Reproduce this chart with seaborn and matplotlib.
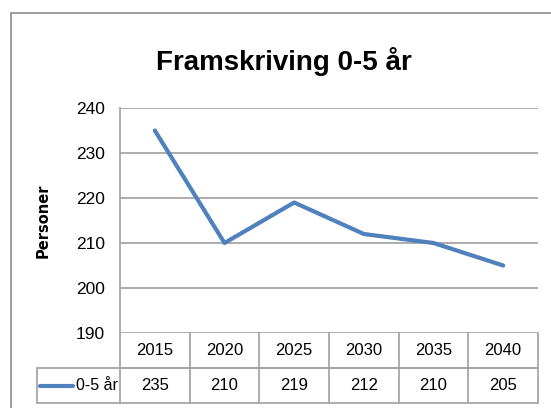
import matplotlib
matplotlib.use("Agg")
import matplotlib.pyplot as plt
import matplotlib.transforms as mtransforms
from matplotlib.patches import Rectangle
import seaborn as sns
import pandas as pd

# data
years = ["2015", "2020", "2025", "2030", "2035", "2040"]
persons = [235, 210, 219, 212, 210, 205]
series_name = "0-5 år"
y_ticks = [190, 200, 210, 220, 230, 240]

line_color = "#4F81BD"
grid_color = "#A6A6A6"
font = ["Liberation Sans", "DejaVu Sans"]

sns.set_style("white")
plt.rcParams["font.family"] = font
plt.rcParams["text.color"] = "black"
plt.rcParams["ytick.color"] = "black"
plt.rcParams["axes.labelcolor"] = "black"

W, H = 551, 408
fig = plt.figure(figsize=(W / 100, H / 100), dpi=100)

# outer chart frame
fig.patches.append(Rectangle((11 / W, -0.1), 1.2, 1 - 13 / H + 0.1,
                             transform=fig.transFigure, fill=False,
                             edgecolor="#8C8C8C", lw=1.2))

left, right, top, bottom = 120, 538, 108, 333
ax = fig.add_axes([left / W, 1 - bottom / H, (right - left) / W, (bottom - top) / H])

df = pd.DataFrame({"pos": range(len(years)), "value": persons})
sns.lineplot(data=df, x="pos", y="value", ax=ax, color=line_color, lw=3)

ax.set_xlim(-0.5, len(years) - 0.5)
ax.set_ylim(y_ticks[0], y_ticks[-1])
ax.set_yticks(y_ticks)
ax.set_xticks([])
ax.set_xlabel("")
ax.set_ylabel("Personer", fontsize=10.5, fontweight="heavy", family="DejaVu Sans", labelpad=18)
ax.tick_params(axis="y", labelsize=12.5, length=0, pad=11)
for t in y_ticks:
    ax.axhline(t, color=grid_color, lw=1.3, zorder=0)
for s in ["top", "right", "bottom"]:
    ax.spines[s].set_visible(False)
ax.spines["left"].set_color(grid_color)
ax.spines["left"].set_linewidth(1.3)

fig.text(0.515, 1 - 62 / H, "Framskriving 0-5 år", ha="center", va="center",
         fontsize=20, fontweight="bold")

# data table under the plot
tr = mtransforms.blended_transform_factory(ax.transData, ax.transAxes)
row_h = 35 / (bottom - top)
n = len(years)
lab_left = -0.5 - (left - 37) / ((right - left) / n)
kw = dict(transform=tr, clip_on=False, color=grid_color, lw=1.3)
ax.plot([-0.5, n - 0.5], [-row_h, -row_h], **kw)
ax.plot([lab_left, n - 0.5], [-row_h, -row_h], **kw)
ax.plot([lab_left, n - 0.5], [-2 * row_h, -2 * row_h], **kw)
ax.plot([lab_left, lab_left], [-row_h, -2 * row_h], **kw)
for i in range(n + 1):
    ax.plot([i - 0.5, i - 0.5], [0, -2 * row_h], **kw)
for i, (yr, v) in enumerate(zip(years, persons)):
    ax.text(i, -0.5 * row_h, yr, transform=tr, ha="center", va="center", fontsize=12)
    ax.text(i, -1.5 * row_h, str(v), transform=tr, ha="center", va="center", fontsize=12)

# legend key inside the table
ax.plot([lab_left + 0.05, lab_left + 0.52], [-1.5 * row_h] * 2, transform=tr,
        clip_on=False, color=line_color, lw=3, solid_capstyle="round")
ax.text(-0.53, -1.5 * row_h, series_name, transform=tr, ha="right", va="center", fontsize=11.5)

fig.savefig("out.png", dpi=100)
